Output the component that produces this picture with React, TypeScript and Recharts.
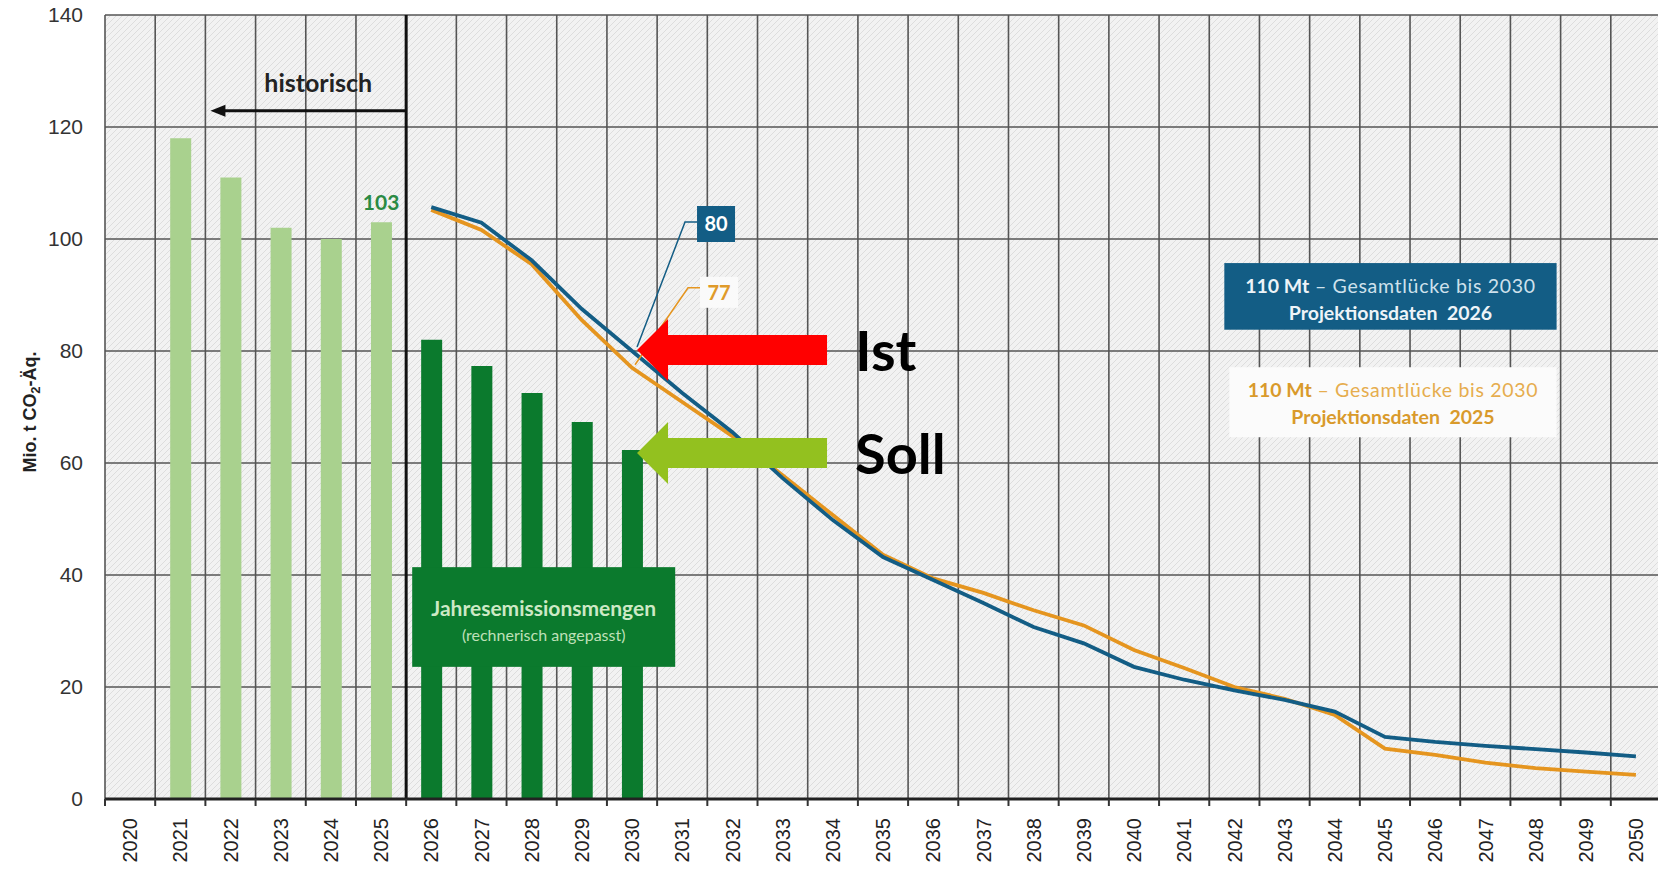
import React from "react";
import {
  ComposedChart,
  Bar,
  Line,
  XAxis,
  YAxis,
  CartesianGrid,
  ReferenceLine,
  ReferenceArea,
  ReferenceDot,
} from "recharts";

const years = [
  2020, 2021, 2022, 2023, 2024, 2025, 2026, 2027, 2028, 2029, 2030, 2031,
  2032, 2033, 2034, 2035, 2036, 2037, 2038, 2039, 2040, 2041, 2042, 2043,
  2044, 2045, 2046, 2047, 2048, 2049, 2050,
];
const yTicks = [0, 20, 40, 60, 80, 100, 120, 140];

// historische Emissionen (hellgrün)
const historicYears = [2021, 2022, 2023, 2024, 2025];
const historicValues = [118, 111, 102, 100, 103];

// Jahresemissionsmengen (dunkelgrün)
const budgetYears = [2026, 2027, 2028, 2029, 2030];
const budgetValues = [82, 77.3, 72.5, 67.3, 62.3];

// Projektionen
const projectionYears = [
  2026, 2027, 2028, 2029, 2030, 2031, 2032, 2033, 2034, 2035, 2036, 2037,
  2038, 2039, 2040, 2041, 2042, 2043, 2044, 2045, 2046, 2047, 2048, 2049, 2050,
];
const projection2026 = [
  105.7, 102.9, 96.2, 87.5, 80, 72.5, 65.5, 57.3, 49.8, 43.2, 39.1, 35, 30.7,
  27.8, 23.6, 21.3, 19.4, 17.7, 15.6, 11.1, 10.2, 9.5, 8.9, 8.3, 7.6,
];
const projection2025 = [
  105.2, 101.6, 95.5, 85.5, 77, 70.9, 64.8, 57.8, 50.7, 43.6, 39.4, 36.8, 33.7,
  31, 26.6, 23.4, 20, 17.9, 15, 9, 7.9, 6.5, 5.5, 4.9, 4.3,
];

const boundaries = [...years.map((y) => y - 0.5), years[years.length - 1] + 0.5];
const domain: [number, number] = [boundaries[0], boundaries[boundaries.length - 1]];

const data = years.map((year) => {
  const h = historicYears.indexOf(year);
  const b = budgetYears.indexOf(year);
  const p = projectionYears.indexOf(year);
  return {
    year,
    historic: h >= 0 ? historicValues[h] : null,
    budget: b >= 0 ? budgetValues[b] : null,
    proj2026: p >= 0 ? projection2026[p] : null,
    proj2025: p >= 0 ? projection2025[p] : null,
  };
});

const BLUE = "#135d85";
const ORANGE = "#e5951f";
const DARK_GREEN = "#0b7a2d";
const LIGHT_GREEN = "#a9d18e";
const ANNO_FONT = "Lato, 'Open Sans', sans-serif";
const AXIS_FONT = "'Liberation Sans', Arial, sans-serif";

const YearTick = ({ x, y, payload }: any) => (
  <text
    x={x}
    y={y}
    transform={`rotate(-90, ${x}, ${y})`}
    textAnchor="end"
    dy="0.36em"
    fontFamily={AXIS_FONT}
    fontSize={20}
    fill="#222"
  >
    {payload.value}
  </text>
);

const YLabel = ({ viewBox }: any) => {
  const cx = viewBox.x + 30;
  const cy = viewBox.y + viewBox.height / 2 + 5;
  return (
    <text
      x={cx}
      y={cy}
      transform={`rotate(-90, ${cx}, ${cy})`}
      textAnchor="middle"
      dy="0.35em"
      fontFamily={AXIS_FONT}
      fontWeight="bold"
      fontSize={18}
      fill="#222"
    >
      Mio. t CO
      <tspan fontSize={13} dy={4}>2</tspan>
      <tspan dy={-4}>-Äq.</tspan>
    </text>
  );
};

const HistoricArrow = (p: any) => {
  const { x1, y1, x2, y2 } = p;
  return (
    <g>
      <line x1={x1} y1={y1} x2={x2 + 12} y2={y2} stroke="#111" strokeWidth={3} />
      <polygon points={`${x2},${y2} ${x2 + 15},${y2 - 6} ${x2 + 15},${y2 + 6}`} fill="#111" />
      <text
        x={(x1 + x2) / 2 + 10}
        y={y1 - 19}
        textAnchor="middle"
        fontFamily={ANNO_FONT}
        fontWeight="bold"
        fontSize={25}
        fill="#222"
      >
        historisch
      </text>
    </g>
  );
};

const GreenBox = ({ x, y, width, height }: any) => (
  <g>
    <rect x={x} y={y} width={width} height={height} fill={DARK_GREEN} />
    <text x={x + width / 2} y={y + 41} dy="0.35em" textAnchor="middle" fontFamily={ANNO_FONT} fontWeight="bold" fontSize={21} fill="#cde9c5">
      Jahresemissionsmengen
    </text>
    <text x={x + width / 2} y={y + 68} dy="0.35em" textAnchor="middle" fontFamily={ANNO_FONT} fontSize={16} fill="#bfe0b8">
      (rechnerisch angepasst)
    </text>
  </g>
);

const makeGapBox = (bg: string, strong: string, soft: string, year: string) => ({ x, y, width, height }: any) => (
  <g>
    <rect x={x} y={y} width={width} height={height} fill={bg} />
    <text x={x + width / 2} y={y + 23} dy="0.35em" textAnchor="middle" fontFamily={ANNO_FONT} fontSize={19.5}>
      <tspan fontWeight="bold" fill={strong}>110 Mt</tspan>
      <tspan fill={soft} letterSpacing={0.7}> – Gesamtlücke bis 2030</tspan>
    </text>
    <text x={x + width / 2} y={y + 50} dy="0.35em" textAnchor="middle" fontFamily={ANNO_FONT} fontWeight="bold" fontSize={19.5} fill={strong} style={{ whiteSpace: "pre" }}>
      {`Projektionsdaten  ${year}`}
    </text>
  </g>
);
const BlueBox = makeGapBox(BLUE, "#eef4f8", "#cfe1ec", "2026");
const OrangeBox = makeGapBox("#fbfbfb", "#d99a2b", "#e6ad4e", "2025");

const Label103 = ({ cx, cy }: any) => (
  <text x={cx} y={cy - 12} textAnchor="middle" fontFamily={ANNO_FONT} fontWeight="bold" fontSize={21} fill="#2a8a43">
    {historicValues[historicYears.indexOf(2025)]}
  </text>
);

const Callout80 = ({ cx, cy }: any) => (
  <g>
    <polyline points={`${cx + 5},${cy - 4} ${cx + 53},${cy - 129} ${cx + 65},${cy - 129}`} fill="none" stroke={BLUE} strokeWidth={1.5} />
    <rect x={cx + 65} y={cy - 145} width={38} height={36} fill={BLUE} />
    <text x={cx + 84} y={cy - 127} dy="0.35em" textAnchor="middle" fontFamily={ANNO_FONT} fontWeight="bold" fontSize={20} fill="#fff">
      {projection2026[projectionYears.indexOf(2030)]}
    </text>
  </g>
);

const Callout77 = ({ cx, cy }: any) => (
  <g>
    <polyline points={`${cx + 3},${cy - 3} ${cx + 56},${cy - 80} ${cx + 68},${cy - 80}`} fill="none" stroke={ORANGE} strokeWidth={1.5} />
    <rect x={cx + 68} y={cy - 91} width={38} height={31} fill="#fafafa" />
    <text x={cx + 87} y={cy - 75} dy="0.35em" textAnchor="middle" fontFamily={ANNO_FONT} fontWeight="bold" fontSize={20} fill="#e09a2a">
      {projection2025[projectionYears.indexOf(2030)]}
    </text>
  </g>
);

const makeArrow = (color: string, text: string, dx: number, dy: number) => ({ cx, cy }: any) => {
  const tx = cx + dx;
  const ty = cy + dy;
  return (
    <g>
      <polygon
        points={`${tx},${ty} ${tx + 31},${ty - 31} ${tx + 31},${ty - 15} ${tx + 190},${ty - 15} ${tx + 190},${ty + 15} ${tx + 31},${ty + 15} ${tx + 31},${ty + 31}`}
        fill={color}
      />
      <text x={tx + 218} y={ty + 21} fontFamily={ANNO_FONT} fontWeight="bold" fontSize={56} fill="#000">
        {text}
      </text>
    </g>
  );
};
const IstArrow = makeArrow("#ff0000", "Ist", 5, -1);
const SollArrow = makeArrow("#93c11f", "Soll", 5, 3);

export default function App() {
  return (
    <div style={{ position: "absolute", left: 0, top: 0, width: 1658, height: 890, overflow: "hidden", background: "#fff" }}>
      <ComposedChart width={1661} height={890} data={data} margin={{ top: 15, right: 0, bottom: 0, left: 0 }}>
        <defs>
          <pattern id="hatch" width="6" height="6" patternUnits="userSpaceOnUse">
            <rect width="6" height="6" fill="#f2f2f2" />
            <path d="M-1,1 L1,-1 M0,6 L6,0 M5,7 L7,5" stroke="#dddddd" strokeWidth={1} />
          </pattern>
        </defs>
        <CartesianGrid xAxisId="grid" stroke="#555" strokeWidth={1.6} fill="url(#hatch)" fillOpacity={1} />
        <XAxis
          xAxisId="grid"
          type="number"
          dataKey="year"
          domain={domain}
          ticks={boundaries}
          interval={0}
          tickFormatter={() => ""}
          height={10}
          tickSize={7}
          axisLine={{ stroke: "#222", strokeWidth: 3 }}
          tickLine={{ stroke: "#333", strokeWidth: 2 }}
        />
        <XAxis
          xAxisId="year"
          type="number"
          dataKey="year"
          domain={domain}
          ticks={years}
          interval={0}
          height={81}
          axisLine={false}
          tickLine={false}
          tickSize={0}
          tickMargin={9}
          tick={<YearTick />}
        />
        <YAxis
          type="number"
          domain={[0, 140]}
          ticks={yTicks}
          interval={0}
          width={105}
          axisLine={false}
          tickLine={false}
          tickSize={0}
          tickMargin={22}
          tick={{ fontFamily: AXIS_FONT, fontSize: 21, fill: "#333" }}
          label={{ content: YLabel }}
        />
        <Bar xAxisId="year" dataKey="historic" stackId="s" barSize={21} fill={LIGHT_GREEN} isAnimationActive={false} />
        <Bar xAxisId="year" dataKey="budget" stackId="s" barSize={22} fill={DARK_GREEN} isAnimationActive={false} />
        <ReferenceLine xAxisId="year" x={2025.5} stroke="#111" strokeWidth={3} />
        <ReferenceLine
          xAxisId="year"
          segment={[
            { x: 2025.5, y: 122.9 },
            { x: 2021.6, y: 122.9 },
          ]}
          shape={HistoricArrow}
        />
        <ReferenceArea xAxisId="year" x1={2025.62} x2={2030.86} y1={23.6} y2={41.4} shape={GreenBox} zIndex={450} />
        <ReferenceArea xAxisId="year" x1={2041.8} x2={2048.42} y1={83.8} y2={95.7} shape={BlueBox} />
        <ReferenceArea xAxisId="year" x1={2041.9} x2={2048.42} y1={64.6} y2={77.1} shape={OrangeBox} />
        <Line
          xAxisId="year"
          type="linear"
          dataKey="proj2025"
          stroke={ORANGE}
          strokeWidth={3.8}
          dot={false}
          isAnimationActive={false}
        />
        <Line
          xAxisId="year"
          type="linear"
          dataKey="proj2026"
          stroke={BLUE}
          strokeWidth={3.8}
          dot={false}
          isAnimationActive={false}
        />
        <ReferenceDot xAxisId="year" x={2025} y={historicValues[4]} shape={Label103} />
        <ReferenceDot xAxisId="year" x={2030} y={projection2025[4]} shape={Callout77} />
        <ReferenceDot xAxisId="year" x={2030} y={projection2026[4]} shape={Callout80} />
        <ReferenceDot xAxisId="year" x={2030} y={projection2026[4]} shape={IstArrow} />
        <ReferenceDot xAxisId="year" x={2030} y={budgetValues[4]} shape={SollArrow} />
      </ComposedChart>
    </div>
  );
}
